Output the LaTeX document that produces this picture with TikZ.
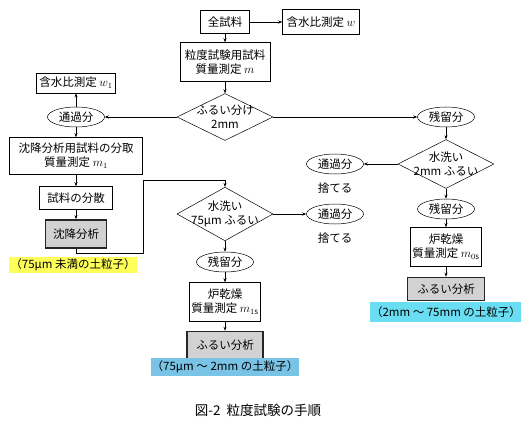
\documentclass[tikz,border=0pt]{standalone}
\usepackage{fontspec}
\setmainfont{Noto Sans CJK JP}
\usepackage{xcolor}
\usetikzlibrary{arrows.meta,shapes.geometric}

\definecolor{hlyellow}{RGB}{255,255,90}
\definecolor{hlblue}{RGB}{120,195,230}
\definecolor{hlcyan}{RGB}{105,222,242}

\begin{document}
\begin{tikzpicture}[
  x=1pt, y=-1pt,
  font=\fontsize{11.5}{14}\selectfont,
  box/.style={draw, line width=0.5pt, align=center, fill=white, inner sep=1pt},
  gbox/.style={draw=black!85, line width=1.6pt, fill=gray!35, align=center, inner sep=1pt},
  dia/.style={draw, diamond, line width=0.5pt, align=center, inner sep=-10pt,
              minimum width=96pt, minimum height=47pt},
  oval/.style={draw, ellipse, line width=0.5pt, inner sep=0pt,
               minimum width=57pt, minimum height=20pt},
  note/.style={inner sep=1pt, align=center},
  arr/.style={-{Stealth[length=4pt,width=3pt]}, line width=0.5pt},
]
\useasboundingbox (0,0) rectangle (521,422);

% ---- main column ----
\node[box, minimum width=49pt, minimum height=23pt] (all)  at (225,22) {全試料};
\node[box, minimum width=77pt, minimum height=25pt] (wc)   at (321,22) {含水比測定 $w$};
\node[box, minimum width=90pt, minimum height=39pt] (mass) at (225,62) {粒度試験用試料\\質量測定 $m$};
\node[dia] (sieve) at (225,117) {ふるい分け\\2mm};

% ---- left: passing fraction ----
\node[oval] (pass1) at (76,117) {通過分};
\node[box, minimum width=79pt, minimum height=20pt]  (wc1)   at (76,83)  {含水比測定 $w_1$};
\node[box, minimum width=133pt, minimum height=37pt] (split) at (76,156) {沈降分析用試料の分取\\質量測定 $m_1$};
\node[box, minimum width=73pt, minimum height=23pt]  (disp)  at (76,198) {試料の分散};
\node[gbox, minimum width=61pt, minimum height=28pt] (sed)   at (76,234) {沈降分析};
\node[note, fill=hlyellow, minimum width=120pt, minimum height=16pt] (lab1) at (73,265)
  {（75μm 未満の土粒子）};

% ---- middle: 75um washing ----
\coordinate (k1) at (143,253);
\coordinate (k2) at (143,180);
\node[dia]  (wash75) at (225,214) {水洗い\\75μm ふるい};
\node[oval] (pass2)  at (335,214) {通過分};
\node[note] (drop2)  at (335,238) {捨てる};
\node[oval] (res2)   at (225,262) {残留分};
\node[box, minimum width=71pt, minimum height=39pt]  (dry2) at (225,302) {炉乾燥\\質量測定 $m_{1\mathrm{s}}$};
\node[gbox, minimum width=76pt, minimum height=27pt] (sa2)  at (225,345) {ふるい分析};
\node[note, fill=hlblue, minimum width=133pt, minimum height=18pt] (lab2) at (225,367)
  {（75μm 〜 2mm の土粒子）};

% ---- right: retained fraction ----
\node[oval] (res1)  at (446,117) {残留分};
\node[dia]  (wash2) at (446,164) {水洗い\\2mm ふるい};
\node[oval] (pass3) at (335,164) {通過分};
\node[note] (drop3) at (335,188) {捨てる};
\node[oval] (res3)  at (446,209) {残留分};
\node[box, minimum width=71pt, minimum height=39pt]  (dry3) at (446,247) {炉乾燥\\質量測定 $m_{0\mathrm{s}}$};
\node[gbox, minimum width=77pt, minimum height=23pt] (sa3)  at (446,289) {ふるい分析};
\node[note, fill=hlcyan, minimum width=137pt, minimum height=20pt] (lab3) at (446,312)
  {（2mm 〜 75mm の土粒子）};

% caption
\node[font=\fontsize{13.5}{15}\selectfont] (cap) at (258,410) {図-2\ \ 粒度試験の手順};

% ---- connectors ----
\foreach \a/\b in {all/mass, mass/sieve, pass1/wc1, pass1/split, split/disp, disp/sed,
                   wash75/res2, res2/dry2, dry2/sa2,
                   res1/wash2, wash2/res3, res3/dry3, dry3/sa3}
  \draw[arr] (\a) -- (\b);
\draw[arr] (all) -- (wc);
\draw[arr] (sieve) -- (pass1);
\draw[arr] (sieve) -- (res1);
\draw[arr] (wash75) -- (pass2);
\draw[arr] (wash2) -- (pass3);
\draw[arr] (sed.south) |- (k1) -- (k2) -| (wash75.north);
\end{tikzpicture}
\end{document}
